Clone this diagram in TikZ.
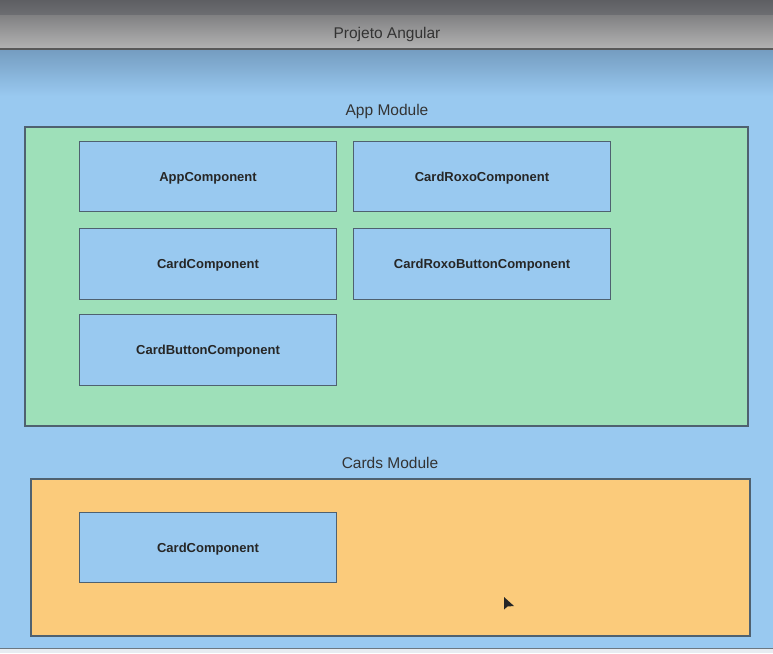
\documentclass[tikz,border=0pt]{standalone}
\usepackage{fontspec}
\setmainfont{Liberation Sans}
\definecolor{skyfill}{HTML}{99C9F0}
\definecolor{skytop}{HTML}{759DC1}
\definecolor{mintfill}{HTML}{9EE0B9}
\definecolor{sandfill}{HTML}{FBCB7B}
\definecolor{edgegray}{HTML}{4F6170}
\definecolor{bartop}{HTML}{5E5F63}
\definecolor{barmid}{HTML}{6D6E72}
\definecolor{barstep}{HTML}{808082}
\definecolor{barlight}{HTML}{B2B2B2}
\definecolor{labelgray}{HTML}{333333}
\tikzset{
  modulebox/.style={draw=edgegray, line width=1.2pt},
  compbox/.style={draw=edgegray, line width=1pt, fill=skyfill, anchor=north west,
    inner sep=0pt, text height=9.4pt, text depth=0pt,
    font=\fontsize{13}{15}\selectfont\bfseries, text=black!85},
  modlabel/.style={font=\fontsize{15.5}{18}\selectfont, text=labelgray},
}
\begin{document}
\begin{tikzpicture}[x=1pt, y=-1pt]
  \useasboundingbox (0,0) rectangle (773,653);
  % page background
  \fill[white!88!skyfill!90!gray] (0,0) rectangle (773,653);
  % project area
  \fill[skyfill] (0,50) rectangle (773,648);
  \shade[top color=skytop, bottom color=skyfill] (0,50) rectangle (773,96);
  \draw[gray!70!skyfill!80!black, line width=1.2pt] (0,648.5) -- (773,648.5);
  % title bar
  \shade[top color=bartop, bottom color=barmid] (0,0) rectangle (773,15);
  \shade[top color=barstep, bottom color=barlight] (0,15) rectangle (773,48);
  \draw[black!65, line width=1.5pt] (0,49) -- (773,49);
  \node[modlabel, text=black!80] (title) at (387,34) {Projeto Angular};

  % App Module
  \node[modlabel] (applabel) at (387,111.5) {App Module};
  \draw[modulebox, fill=mintfill] (25,127) rectangle (748,426);
  \node[compbox, minimum width=257pt, minimum height=70pt] (appc) at (79,141) {AppComponent};
  \node[compbox, minimum width=257pt, minimum height=70pt] (roxo) at (353,141) {CardRoxoComponent};
  \node[compbox, minimum width=257pt, minimum height=71pt] (card) at (79,228) {CardComponent};
  \node[compbox, minimum width=257pt, minimum height=71pt] (roxobtn) at (353,228) {CardRoxoButtonComponent};
  \node[compbox, minimum width=257pt, minimum height=71pt] (cardbtn) at (79,314) {CardButtonComponent};

  % Cards Module
  \node[modlabel] (cardslabel) at (390,462.5) {Cards Module};
  \draw[modulebox, fill=sandfill] (31,479) rectangle (750,636);
  \node[compbox, minimum width=257pt, minimum height=70pt] (card2) at (79,512) {CardComponent};

  % mouse pointer
  \fill[black!85] (504,597) -- (504,609.5) -- (507.5,606.5) -- (514,606) -- cycle;
\end{tikzpicture}
\end{document}
